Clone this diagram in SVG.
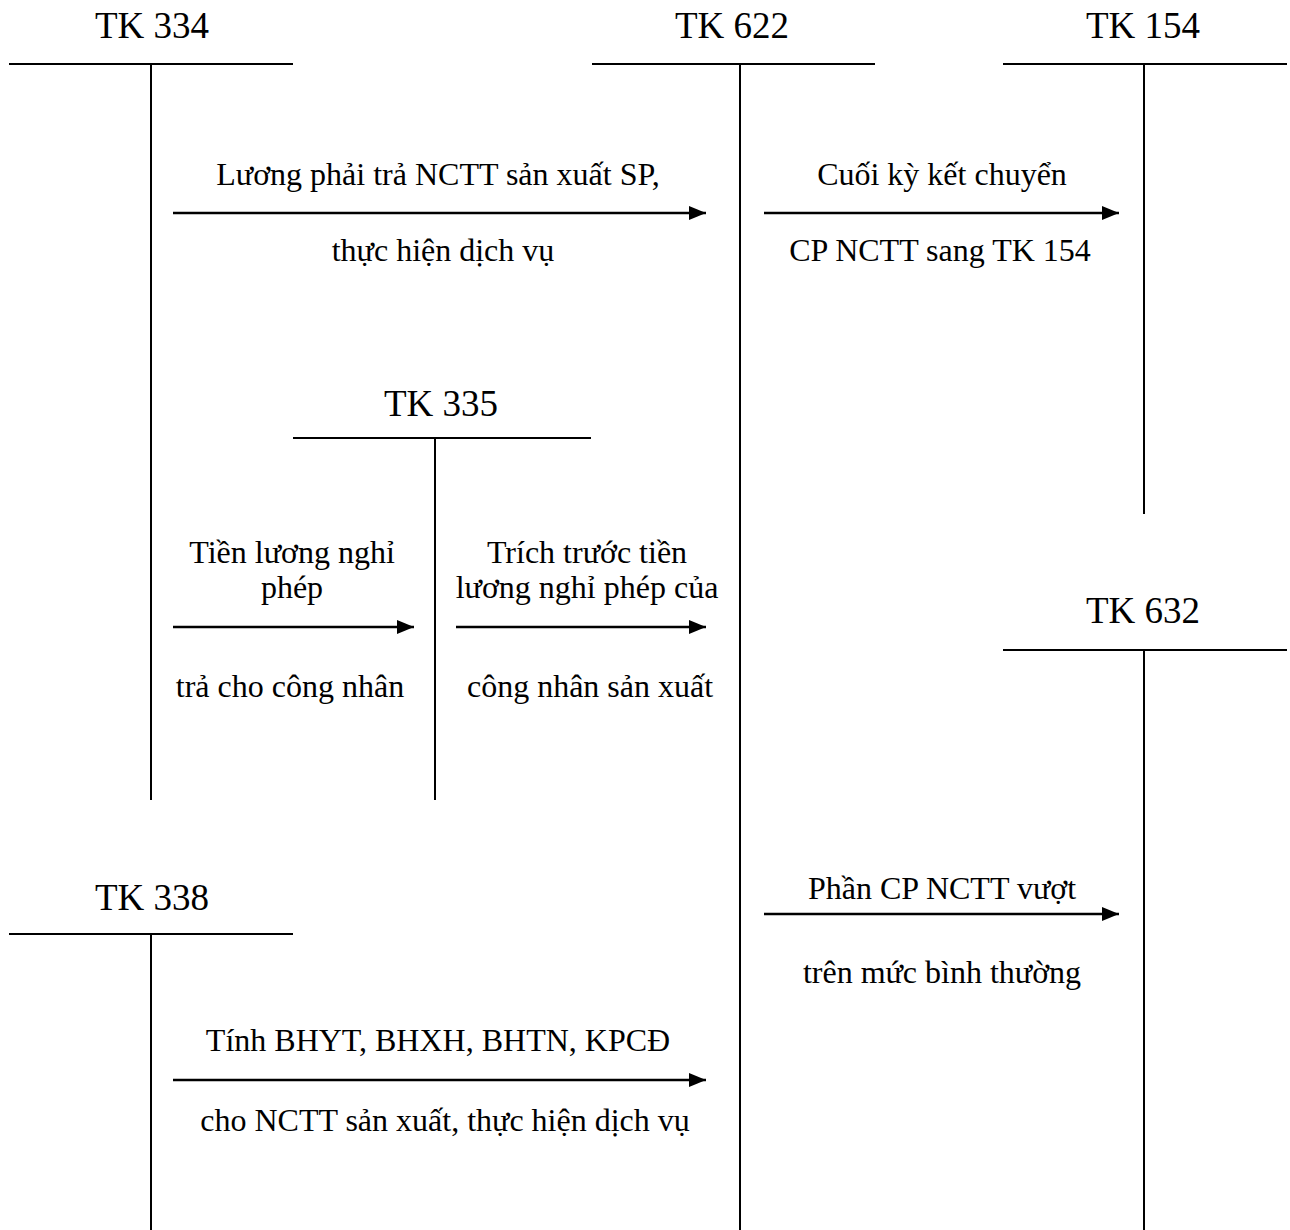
<svg xmlns="http://www.w3.org/2000/svg" width="1290" height="1230" viewBox="0 0 1290 1230">
<style>
text{font-family:"Liberation Serif","Times New Roman",serif;fill:#000;text-anchor:middle}
.t{font-size:37px}
.b{font-size:32px}
.ln{stroke:#000;stroke-width:2;fill:none}
.ar{stroke:#000;stroke-width:2.5;fill:none;marker-end:url(#ah)}
</style>
<defs>
<marker id="ah" markerUnits="userSpaceOnUse" markerWidth="18" markerHeight="16" refX="17" refY="7" orient="auto">
<path d="M0,0 L17,7 L0,14 Z" fill="#000"/>
</marker>
</defs>
<rect width="1290" height="1230" fill="#fff"/>
<g id="tk334">
<text class="t" x="152" y="38">TK 334</text>
<line class="ln" x1="9" y1="64" x2="293" y2="64"/>
<line class="ln" x1="151" y1="64" x2="151" y2="800"/>
</g>
<g id="tk622">
<text class="t" x="732" y="38">TK 622</text>
<line class="ln" x1="592" y1="64" x2="875" y2="64"/>
<line class="ln" x1="740" y1="64" x2="740" y2="1230"/>
</g>
<g id="tk154">
<text class="t" x="1143" y="38">TK 154</text>
<line class="ln" x1="1003" y1="64" x2="1287" y2="64"/>
<line class="ln" x1="1144" y1="64" x2="1144" y2="514"/>
</g>
<g id="tk335">
<text class="t" x="441" y="416">TK 335</text>
<line class="ln" x1="293" y1="438" x2="591" y2="438"/>
<line class="ln" x1="435" y1="438" x2="435" y2="800"/>
</g>
<g id="tk632">
<text class="t" x="1143" y="623">TK 632</text>
<line class="ln" x1="1003" y1="650" x2="1287" y2="650"/>
<line class="ln" x1="1144" y1="650" x2="1144" y2="1230"/>
</g>
<g id="tk338">
<text class="t" x="152" y="910">TK 338</text>
<line class="ln" x1="9" y1="934" x2="293" y2="934"/>
<line class="ln" x1="151" y1="934" x2="151" y2="1230"/>
</g>
<g id="connectors">
<line class="ar" x1="173" y1="213" x2="706" y2="213"/>
<line class="ar" x1="764" y1="213" x2="1119" y2="213"/>
<line class="ar" x1="173" y1="627" x2="414" y2="627"/>
<line class="ar" x1="456" y1="627" x2="706" y2="627"/>
<line class="ar" x1="764" y1="914" x2="1119" y2="914"/>
<line class="ar" x1="173" y1="1080" x2="706" y2="1080"/>
</g>
<g id="labels">
<text class="b" x="438" y="185">Lương phải trả NCTT sản xuất SP,</text>
<text class="b" x="443" y="261">thực hiện dịch vụ</text>
<text class="b" x="942" y="185">Cuối kỳ kết chuyển</text>
<text class="b" x="940" y="261">CP NCTT sang TK 154</text>
<text class="b" x="292" y="563">Tiền lương nghỉ</text>
<text class="b" x="292" y="598">phép</text>
<text class="b" x="290" y="697">trả cho công nhân</text>
<text class="b" x="587" y="563">Trích trước tiền</text>
<text class="b" x="587" y="598">lương nghỉ phép của</text>
<text class="b" x="590" y="697">công nhân sản xuất</text>
<text class="b" x="942" y="899">Phần CP NCTT vượt</text>
<text class="b" x="942" y="983">trên mức bình thường</text>
<text class="b" x="438" y="1051">Tính BHYT, BHXH, BHTN, KPCĐ</text>
<text class="b" x="445" y="1131">cho NCTT sản xuất, thực hiện dịch vụ</text>
</g>
</svg>
